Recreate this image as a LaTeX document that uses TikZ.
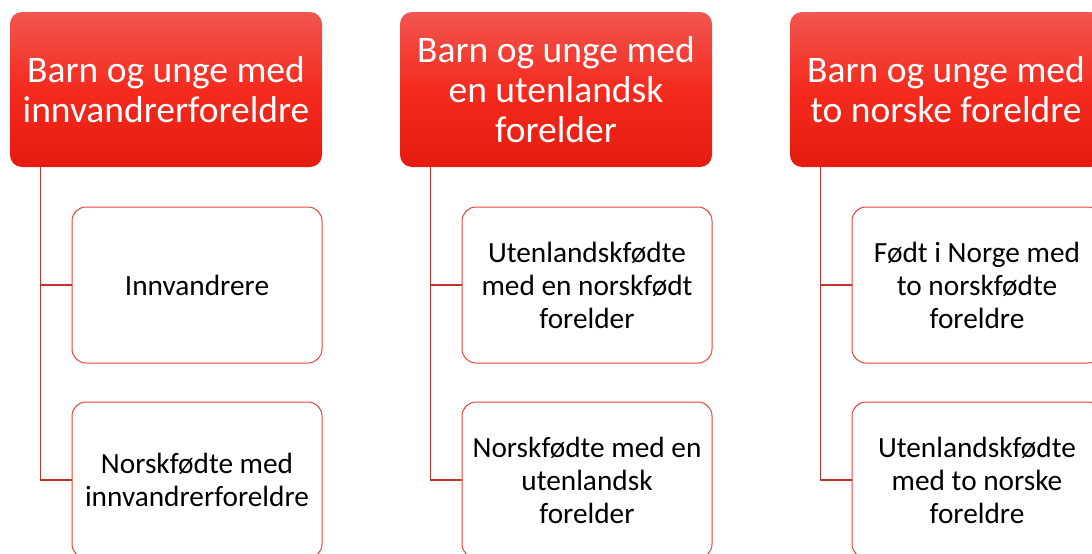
\documentclass[tikz,border=0pt]{standalone}
\usepackage{fontspec}
\setmainfont{Carlito}
\definecolor{headtop}{RGB}{241,86,80}
\definecolor{headmid}{RGB}{245,42,30}
\definecolor{headbot}{RGB}{228,27,14}
\definecolor{boxedge}{RGB}{234,66,60}
\definecolor{linkred}{RGB}{192,52,42}
\begin{document}
\begin{tikzpicture}[x=1pt, y=-1pt,
    head/.style={rounded corners=12pt, top color=headtop, bottom color=headbot, middle color=headmid,
      minimum width=312pt, minimum height=155pt, inner sep=0pt, align=center, text=white,
      font=\fontsize{37.5}{40}\selectfont},
    sub/.style={draw=boxedge, line width=1pt, rounded corners=14pt, fill=white,
      minimum width=250pt, minimum height=156pt, inner sep=0pt, align=center,
      font=\fontsize{29.3}{33}\selectfont},
    link/.style={draw=linkred, line width=1.3pt}]
    \useasboundingbox (0,0) rectangle (1092,554);
    \clip (0,0) rectangle (1092,554);

    % Innvandrerforeldre
    \node[head] (h1) at (166,89.5) {Barn og unge med\\innvandrerforeldre};
    \node[sub] (s11) at (197,285) {Innvandrere};
    \node[sub] (s12) at (197,480) {Norskfødte med\\innvandrerforeldre};

    % En utenlandsk forelder
    \node[head] (h2) at (556,89.5) {Barn og unge med\\en utenlandsk\\forelder};
    \node[sub] (s21) at (587,285) {Utenlandskfødte\\med en norskfødt\\forelder};
    \node[sub] (s22) at (587,480) {Norskfødte med en\\utenlandsk\\forelder};

    % To norske foreldre
    \node[head] (h3) at (946,89.5) {Barn og unge med\\to norske foreldre};
    \node[sub] (s31) at (977,285) {Født i Norge med\\to norskfødte\\foreldre};
    \node[sub] (s32) at (977,480) {Utenlandskfødte\\med to norske\\foreldre};

    % Lines
    \draw[link] ([xshift=31pt]h1.south west) |- (s11.west);
    \draw[link] ([xshift=31pt]h1.south west) |- (s12.west);
    \draw[link] ([xshift=31pt]h2.south west) |- (s21.west);
    \draw[link] ([xshift=31pt]h2.south west) |- (s22.west);
    \draw[link] ([xshift=31pt]h3.south west) |- (s31.west);
    \draw[link] ([xshift=31pt]h3.south west) |- (s32.west);
\end{tikzpicture}
\end{document}
